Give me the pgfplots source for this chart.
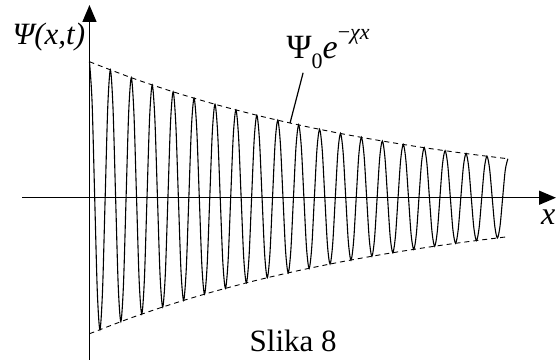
\documentclass[border=0pt]{standalone}
\usepackage{fontspec}
\setmainfont{Liberation Serif}
\usepackage{pgfplots}
\pgfplotsset{compat=1.18}
\usetikzlibrary{arrows.meta}

\begin{document}
\begin{tikzpicture}
\path[use as bounding box] (0,0) rectangle (559bp,360bp);
\begin{axis}[
  at={(22bp,0bp)}, anchor=south west,
  scale only axis, width=534bp, height=355bp,
  axis lines=middle,
  xmin=-25.8, xmax=178.4,
  ymin=-1.193, ymax=1.417,
  enlargelimits=false,
  xtick=\empty, ytick=\empty,
  axis line style={line width=1.5bp, -{Triangle[length=17bp,width=14bp]}},
  clip=false,
]
% damped oscillation, eight samples per period
\addplot[black, line width=1.1bp, smooth] coordinates {
(0,1)(1,.7016)(2,0)(3,-.6907)(4,-.9692)(5,-.6800)(6,0)(7,.6695)
(8,.9394)(9,.6591)(10,0)(11,-.6488)(12,-.9105)(13,-.6388)(14,0)(15,.6289)
(16,.8825)(17,.6192)(18,0)(19,-.6095)(20,-.8553)(21,-.6001)(22,0)(23,.5908)
(24,.8290)(25,.5816)(26,0)(27,-.5726)(28,-.8035)(29,-.5637)(30,0)(31,.5550)
(32,.7788)(33,.5464)(34,0)(35,-.5379)(36,-.7548)(37,-.5296)(38,0)(39,.5214)
(40,.7316)(41,.5133)(42,0)(43,-.5053)(44,-.7091)(45,-.4975)(46,0)(47,.4898)
(48,.6873)(49,.4822)(50,0)(51,-.4747)(52,-.6661)(53,-.4674)(54,0)(55,.4601)
(56,.6456)(57,.4530)(58,0)(59,-.4459)(60,-.6257)(61,-.4390)(62,0)(63,.4322)
(64,.6065)(65,.4255)(66,0)(67,-.4189)(68,-.5878)(69,-.4124)(70,0)(71,.4061)
(72,.5698)(73,.3998)(74,0)(75,-.3936)(76,-.5522)(77,-.3875)(78,0)(79,.3815)
(80,.5353)(81,.3756)(82,0)(83,-.3697)(84,-.5188)(85,-.3640)(86,0)(87,.3584)
(88,.5028)(89,.3528)(90,0)(91,-.3473)(92,-.4873)(93,-.3419)(94,0)(95,.3366)
(96,.4724)(97,.3314)(98,0)(99,-.3263)(100,-.4578)(101,-.3212)(102,0)(103,.3163)
(104,.4437)(105,.3113)(106,0)(107,-.3065)(108,-.4300)(109,-.3017)(110,0)(111,.2971)
(112,.4169)(113,.2925)(114,0)(115,-.2880)(116,-.4041)(117,-.2835)(118,0)(119,.2791)
(120,.3916)(121,.2747)(122,0)(123,-.2705)(124,-.3795)(125,-.2663)(126,0)(127,.2622)
(128,.3679)(129,.2581)(130,0)(131,-.2541)(132,-.3566)(133,-.2502)(134,0)(135,.2463)
(136,.3456)(137,.2425)(138,0)(139,-.2387)(140,-.3350)(141,-.2350)(142,0)(143,.2314)
(144,.3247)(145,.2278)(146,0)(147,-.2243)(148,-.3147)(149,-.2208)(150,0)(151,.2174)
(152,.3050)(153,.2140)(154,0)(155,-.2107)(156,-.2956)(157,-.2074)(158,0)(159,.2042)
(160,.2865)
};
% envelope
\addplot[black, line width=0.9bp, dash pattern=on 5bp off 4bp, smooth] coordinates {
(0,1)(16,.8825)(32,.7788)(48,.6873)(64,.6065)(80,.5353)(96,.4724)(112,.4169)(128,.3679)(144,.3247)(160,.2865)
};
\addplot[black, line width=0.9bp, dash pattern=on 5bp off 4bp, smooth] coordinates {
(0,-1)(16,-.8825)(32,-.7788)(48,-.6873)(64,-.6065)(80,-.5353)(96,-.4724)(112,-.4169)(128,-.3679)(144,-.3247)(160,-.2865)
};
% leader to the envelope
\draw[line width=1.2bp] (axis cs:81.7,0.919) -- (axis cs:76.7,0.549);
\node[anchor=base east, inner sep=0pt, font=\fontsize{31bp}{33bp}\selectfont\itshape]
  at (axis cs:-1.6,1.123) {Ψ(x,t)};
\node[anchor=base west, inner sep=0pt, font=\fontsize{32bp}{34bp}\selectfont\itshape]
  at (axis cs:172.6,-0.2) {x};
\node[anchor=base west, inner sep=0pt, font=\fontsize{34bp}{36bp}\selectfont]
  at (axis cs:75.3,1.027) {Ψ\raisebox{-0.3em}{\fontsize{22bp}{23bp}\selectfont 0}\textit{e}\raisebox{0.55em}{\fontsize{22bp}{23bp}\selectfont −\textit{χx}}};
\node[anchor=base west, inner sep=0pt, font=\fontsize{31bp}{33bp}\selectfont]
  at (axis cs:61.2,-1.128) {Slika 8};
\end{axis}
\end{tikzpicture}
\end{document}
